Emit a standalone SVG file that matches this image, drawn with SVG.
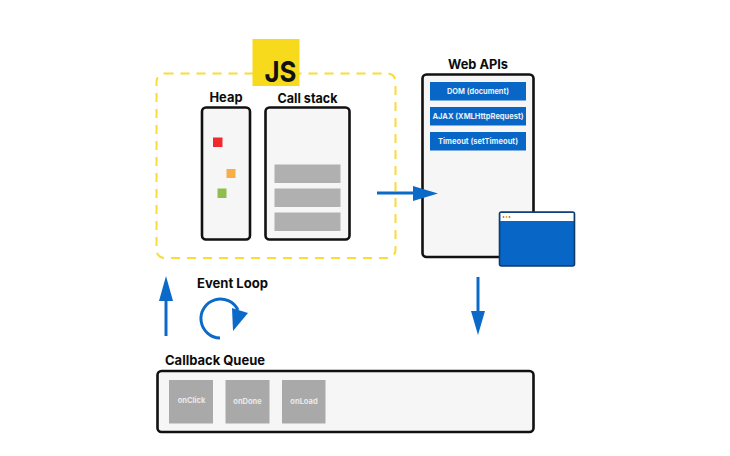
<svg xmlns="http://www.w3.org/2000/svg" width="730" height="456" viewBox="0 0 730 456">
<style>
text{font-family:"Inter","Liberation Sans",sans-serif}
.title{font-size:13px;font-weight:700;fill:#0c0c0c}
.panel{fill:#f6f6f6;stroke:#111;stroke-width:2.6}
.bar{fill:#b0b0b0}
.api{fill:#0766c6}
.apit{font-size:8px;font-weight:700;fill:#e8f0f8;text-anchor:middle}
.cb{fill:#a9a9a9}
.cbt{font-size:7.5px;font-weight:700;fill:#e9e9e9;text-anchor:middle}
.line{fill:none;stroke:#0b6ac8;stroke-width:3}
.head{fill:#0b6ac8}
</style>
<rect width="730" height="456" fill="#fff"/>
<g id="js-runtime">
<rect x="156.500" y="73.500" width="239" height="184.500" rx="8" fill="none" stroke="#f7dc3a" stroke-width="2" stroke-dasharray="9 7"/>
</g>
<g id="js-logo">
<rect x="252.500" y="39" width="47" height="47" fill="#f7da1c"/>
<text x="280.500" y="82" text-anchor="middle" font-size="29" font-weight="700" fill="#111" textLength="32" lengthAdjust="spacingAndGlyphs">JS</text>
</g>
<g id="heap">
<text class="title" x="226" y="102" text-anchor="middle" textLength="33" lengthAdjust="spacingAndGlyphs">Heap</text>
<rect class="panel" x="202" y="107.500" width="48" height="132" rx="4"/>
<rect x="213" y="137.500" width="9.500" height="9.500" fill="#ee2a2e"/>
<rect x="226.500" y="169" width="9" height="9" fill="#f6ae45"/>
<rect x="217.500" y="188.500" width="9" height="9.500" fill="#8fbf4a"/>
</g>
<g id="call-stack">
<text class="title" x="307.500" y="103" text-anchor="middle" textLength="60" lengthAdjust="spacingAndGlyphs">Call stack</text>
<rect class="panel" x="265.500" y="107.500" width="84" height="132" rx="4"/>
<rect class="bar" x="274.500" y="164.500" width="66" height="18.500"/>
<rect class="bar" x="274.500" y="188.500" width="66" height="18.500"/>
<rect class="bar" x="274.500" y="212.500" width="66" height="18.500"/>
</g>
<g id="web-apis">
<text class="title" x="478" y="69" text-anchor="middle" textLength="60" lengthAdjust="spacingAndGlyphs">Web APIs</text>
<rect class="panel" x="422.500" y="74.500" width="111" height="182.500" rx="4"/>
<rect class="api" x="430" y="82" width="96" height="18.500"/>
<text class="apit" x="478" y="94" textLength="62" lengthAdjust="spacingAndGlyphs">DOM (document)</text>
<rect class="api" x="430" y="107" width="96" height="18.500"/>
<text class="apit" x="478" y="119" textLength="91" lengthAdjust="spacingAndGlyphs">AJAX (XMLHttpRequest)</text>
<rect class="api" x="430" y="132" width="96" height="18.500"/>
<text class="apit" x="478" y="144" textLength="80" lengthAdjust="spacingAndGlyphs">Timeout (setTimeout)</text>
</g>
<g id="browser-window">
<rect x="499.500" y="212" width="75" height="54" rx="2" fill="#0766c6" stroke="#123a66" stroke-width="1.600"/>
<rect x="500.500" y="213" width="73" height="8" fill="#fff"/>
<circle cx="503.500" cy="217" r=".9" fill="#e0662a"/>
<circle cx="506.500" cy="217" r=".9" fill="#e8a030"/>
<circle cx="509.500" cy="217" r=".9" fill="#6a9a40"/>
</g>
<g id="callback-queue">
<text class="title" x="165" y="365" textLength="100" lengthAdjust="spacingAndGlyphs">Callback Queue</text>
<rect class="panel" x="157.500" y="371" width="376" height="61" rx="4"/>
<rect class="cb" x="169" y="380" width="44" height="43.500"/>
<text class="cbt" x="191.500" y="403">onClick</text>
<rect class="cb" x="225.500" y="380" width="44" height="43.500"/>
<text class="cbt" x="247.500" y="404">onDone</text>
<rect class="cb" x="282" y="380" width="43.500" height="43.500"/>
<text class="cbt" x="304" y="404">onLoad</text>
</g>
<g id="event-loop">
<text class="title" x="197" y="288" textLength="71" lengthAdjust="spacingAndGlyphs">Event Loop</text>
</g>
<g id="connectors">
<path class="line" d="M377 193H416"/>
<path class="head" d="M413 186L438 193.500L413 201Z"/>
<path class="line" d="M478 277V313"/>
<path class="head" d="M471 311H485L478 335Z"/>
<path class="line" d="M166 336V299"/>
<path class="head" d="M159 301H173L166 276Z"/>
<path class="line" d="M220 338A19.500 19.500 0 1 1 238 310"/>
<path class="head" d="M232 308L248 313L233 331Z"/>
</g>
</svg>
